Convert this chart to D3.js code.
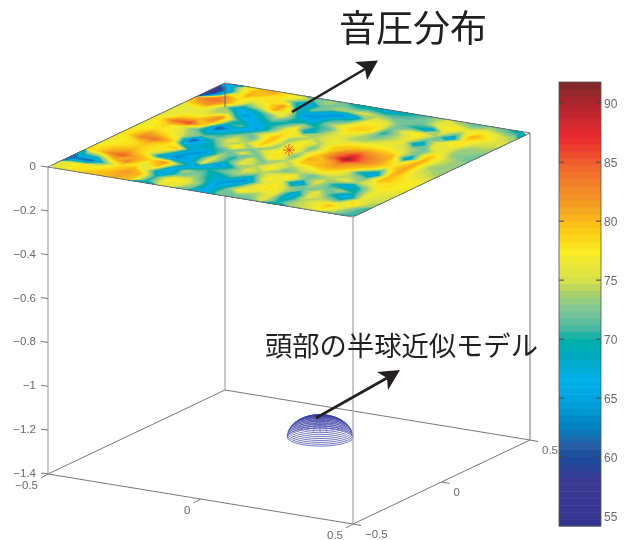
<!DOCTYPE html>
<html>
<head>
<meta charset="utf-8">
<script src="https://cdn.jsdelivr.net/npm/d3@7"></script>
<style>
  html, body { margin: 0; padding: 0; background: #fff; }
  svg { display: block; will-change: transform; }
  text { font-family: "Liberation Sans", sans-serif; fill: #6a6a6a; font-size: 11.5px; }
  .title { font-family: "Noto Sans CJK JP", sans-serif; fill: #231f20; }
</style>
</head>
<body>
<div class="canvas"></div>
<script>
const width = 625;
const height = 540;

const pressure = [
  [76,78,79,80,81,80,70,76,76,72,66,72,72,72,76,70,74,75,78,74,71],
  [76,78,77,79,82,80,70,78,77,73,65,72,78,74,76,67,74,76,80,76,71],
  [62,60,72,78,80,74,64,72,74,70,64,68,76,78,76,66,76,74,72,79,74],
  [70,72,80,83,76,80,66,74,72,68,70,63,74,78,74,72,76,70,65,76,75],
  [78,82,85,81,79,82,72,66,70,72,74,70,78,76,64,74,72,74,70,77,75],
  [78,80,81,78,68,63,66,76,63,70,76,74,76,78,72,76,70,64,72,77,76],
  [77,78,79,78,74,64,68,76,70,76,74,78,72,74,72,74,76,74,76,78,77],
  [77,78,80,78,80,68,63,74,70,76,72,76,74,76,78,76,74,72,80,78,77],
  [78,83,84,80,66,68,70,72,76,72,78,74,79,80,81,79,70,65,80,78,77],
  [78,81,79,76,60,68,74,78,72,76,78,72,81,80,83,81,79,72,81,76,75],
  [77,78,77,74,72,72,76,74,79,73,79,74,79,84,91,84,81,78,81,75,74],
  [77,79,76,72,66,70,74,72,80,74,78,72,78,83,87,83,81,76,81,74,73],
  [78,84,86,78,60,66,70,76,80,73,77,74,79,80,82,81,80,66,81,75,73],
  [76,79,80,82,70,72,64,72,78,76,74,76,76,78,78,78,76,72,80,75,73],
  [76,76,76,83,72,66,68,72,78,66,74,76,74,74,76,76,74,72,77,73,72],
  [76,77,74,74,63,68,72,70,74,70,72,78,75,72,74,76,66,76,76,73,73],
  [80,82,74,66,68,72,76,70,66,72,76,79,79,70,74,77,72,76,78,74,74],
  [83,84,80,72,75,81,76,64,64,70,72,78,78,72,76,78,74,66,78,76,75],
  [60,82,78,76,78,82,68,72,66,63,68,76,76,72,70,66,76,72,81,78,75],
  [58,72,81,78,78,72,64,72,74,74,76,74,72,72,72,76,78,76,78,76,74],
  [66,76,80,81,78,76,72,74,72,70,70,68,70,71,73,76,74,72,74,72,70]
];

const zTicks = [0, -0.2, -0.4, -0.6, -0.8, -1, -1.2, -1.4];
const xTicks = [-0.5, 0, 0.5];
const yTicks = [-0.5, 0, 0.5];
const colorTicks = [55, 60, 65, 70, 75, 80, 85, 90];

// jet-like colormap as it came out of the print conversion
const colorStops = [54.15, 58, 60, 61, 62.5, 64.5, 66.5, 68.5, 70, 71, 72.5, 73.8, 75, 77.5, 79.5, 81, 84.5, 87, 90, 91.8];
const colorValues = ["#333391", "#3a3a94", "#1a4a9a", "#2a5fa5", "#0080bc", "#00a0dc", "#00b0ec", "#00a9c0", "#00b0a8", "#4fb8a0", "#80c898", "#a6d06f", "#d8e04a", "#f9ec20", "#fcc514", "#f5a623", "#f1682a", "#ed2a30", "#b0252e", "#7a2a2a"];
const bandCount = 64;

// 半球モデル
const headCenter = [-0.027, 0.222];
const headRadius = 0.0935;
const headLatitudes = [0, 5, 10, 15, 20, 25, 30, 35, 40, 45, 50, 55, 60, 65, 70, 75, 80, 85];
const headLongitudes = d3.range(0, 360, 15);

// axis box on screen
const cornerLeft = [48, 167];
const vecX = [305, 50];
const vecY = [177, -84];
const fx = d3.scaleLinear().domain([-0.5, 0.5]).range([0, 1]);
const fy = d3.scaleLinear().domain([-0.5, 0.5]).range([0, 1]);
const zScale = d3.scaleLinear().domain([0, -1.4]).range([0, 307]);

function project(x, y, z) {
  return [
    cornerLeft[0] + fx(x) * vecX[0] + fy(y) * vecY[0],
    cornerLeft[1] + fx(x) * vecX[1] + fy(y) * vecY[1] + zScale(z)
  ];
}

const svg = d3.select(".canvas").append("svg")
  .attr("width", width)
  .attr("height", height);

const line = d3.line();

function edge(a, b, color, w) {
  svg.append("path")
    .attr("d", line([project(...a), project(...b)]))
    .attr("stroke", color)
    .attr("stroke-width", w)
    .attr("fill", "none");
}

// floor and back
const zMin = -1.4;
edge([-0.5, 0.5, zMin], [0.5, 0.5, zMin], "#777", 1);
edge([-0.5, -0.5, zMin], [-0.5, 0.5, zMin], "#777", 1);
edge([-0.5, 0.5, 0], [-0.5, 0.5, zMin], "#aaa", 1.3);
edge([0.5, 0.5, 0], [0.5, 0.5, zMin], "#aaa", 1.6);
edge([-0.5, -0.5, 0], [-0.5, -0.5, zMin], "#aaa", 1.3);

// hemisphere
const headColor = "#3a3fa6";
const toRad = Math.PI / 180;
function headPoint(lat, lon) {
  const r = headRadius * Math.cos(lat * toRad);
  return project(
    headCenter[0] + r * Math.cos(lon * toRad),
    headCenter[1] + r * Math.sin(lon * toRad),
    zMin + headRadius * Math.sin(lat * toRad)
  );
}
const head = svg.append("g").attr("fill", "none").attr("stroke", headColor).attr("stroke-width", 0.7);
const ringLine = d3.line().curve(d3.curveLinearClosed);
headLatitudes.forEach(lat => {
  head.append("path").attr("d", ringLine(headLongitudes.map(lon => headPoint(lat, lon))));
});
headLongitudes.forEach(lon => {
  head.append("path")
    .attr("stroke-width", 0.4)
    .attr("d", line(headLatitudes.filter(lat => lat >= 35).map(lat => headPoint(lat, lon))));
});

edge([-0.5, -0.5, zMin], [0.5, -0.5, zMin], "#777", 1);
edge([0.5, -0.5, zMin], [0.5, 0.5, zMin], "#777", 1);
edge([0.5, -0.5, 0], [0.5, -0.5, zMin], "#aaa", 1.3);

// colours
const colorLine = d3.scaleLinear().domain(colorStops).range(colorValues);
const colorMin = colorStops[0];
const colorMax = colorStops[colorStops.length - 1];
const bandStep = (colorMax - colorMin) / bandCount;
const bands = d3.range(bandCount).map(i => colorMin + i * bandStep);
const bandColor = v => colorLine(v + bandStep / 2);

// pressure plane
const n = pressure.length;
const gridValues = pressure.flat();
const contours = d3.contours().size([n, n]).thresholds(bands)(gridValues);
const gridToPlane = d3.geoTransform({
  point(gx, gy) {
    const p = project(-0.5 + gx / n, -0.5 + gy / n, 0);
    this.stream.point(p[0], p[1]);
  }
});
const planePath = d3.geoPath(gridToPlane);
svg.append("g").selectAll("path")
  .data(contours)
  .join("path")
  .attr("d", planePath)
  .attr("fill", d => bandColor(d.value));

// plane outline
[[[-0.5, -0.5], [0.5, -0.5]], [[0.5, -0.5], [0.5, 0.5]], [[0.5, 0.5], [-0.5, 0.5]], [[-0.5, 0.5], [-0.5, -0.5]]].forEach(e => {
  edge([e[0][0], e[0][1], 0], [e[1][0], e[1][1], 0], "#666", 0.9);
});
// back corner line shows through the plane
svg.append("path")
  .attr("d", line([project(-0.5, 0.5, 0), project(-0.5, 0.5, -0.11)]))
  .attr("stroke", "#666").attr("stroke-width", 1);

// asterisk at the origin
const star = project(0, 0, 0);
[0, 45, 90, 135].forEach(a => {
  svg.append("line")
    .attr("x1", star[0] - 6 * Math.cos(a * toRad)).attr("y1", star[1] - 6 * Math.sin(a * toRad))
    .attr("x2", star[0] + 6 * Math.cos(a * toRad)).attr("y2", star[1] + 6 * Math.sin(a * toRad))
    .attr("stroke", "#d8502a").attr("stroke-width", 0.9);
});

// axis ticks and labels
const fmt = v => String(v).replace("-", "\u2212");
zTicks.forEach(t => {
  const p = project(-0.5, -0.5, t);
  svg.append("line").attr("x1", p[0] - 7).attr("y1", p[1] - 1).attr("x2", p[0]).attr("y2", p[1]).attr("stroke", "#777");
  svg.append("text").attr("x", p[0] - 12).attr("y", p[1] + 3).attr("text-anchor", "end").text(fmt(t));
});
xTicks.forEach(t => {
  const p = project(t, -0.5, zMin);
  svg.append("line").attr("x1", p[0]).attr("y1", p[1]).attr("x2", p[0] - 7).attr("y2", p[1] + 4).attr("stroke", "#777");
  svg.append("text").attr("x", p[0] - 10).attr("y", p[1] + 15).attr("text-anchor", "end").text(fmt(t));
});
yTicks.forEach(t => {
  const p = project(0.5, t, zMin);
  svg.append("line").attr("x1", p[0]).attr("y1", p[1]).attr("x2", p[0] + 8).attr("y2", p[1] + 1.5).attr("stroke", "#777");
  svg.append("text").attr("x", p[0] + 12).attr("y", p[1] + 13.5).text(fmt(t));
});

// colorbar
const barX = 559;
const barW = 42;
const barScale = d3.scaleLinear().domain([54.15, 91.8]).range([526, 82]);
svg.append("g").selectAll("rect")
  .data(bands)
  .join("rect")
  .attr("x", barX)
  .attr("width", barW)
  .attr("y", d => barScale(d + bandStep))
  .attr("height", d => barScale(d) - barScale(d + bandStep) + 0.5)
  .attr("fill", d => bandColor(d));
svg.append("rect").attr("x", barX).attr("y", 82).attr("width", barW).attr("height", 444)
  .attr("fill", "none").attr("stroke", "#555").attr("stroke-width", 0.8);
const barAxis = d3.axisRight(barScale).tickValues(colorTicks).tickSize(0).tickPadding(3);
const barG = svg.append("g").attr("transform", `translate(${barX + barW},0)`).call(barAxis);
barG.select(".domain").remove();
barG.selectAll("text").style("font-size", "12px").style("fill", "#6a6a6a").attr("dy", "0.35em");
colorTicks.forEach(t => {
  const y = barScale(t);
  svg.append("line").attr("x1", barX).attr("x2", barX + 5).attr("y1", y).attr("y2", y).attr("stroke", "#444");
  svg.append("line").attr("x1", barX + barW - 5).attr("x2", barX + barW).attr("y1", y).attr("y2", y).attr("stroke", "#444");
});

// arrows and titles
function arrow(tail, tip, b1, b2, notch) {
  svg.append("path").attr("d", line([tail, notch])).attr("stroke", "#231f20").attr("stroke-width", 2.6);
  svg.append("path").attr("d", line([tip, b1, notch, b2]) + "Z").attr("fill", "#231f20");
}
arrow([292, 112], [378, 60.5], [355, 62], [367, 80], [365, 69]);
arrow([316, 418], [400, 370], [377, 372], [388, 390], [387, 378]);

svg.append("text").attr("class", "title").attr("x", 339).attr("y", 42).style("font-size", "37px").text("音圧分布");
svg.append("text").attr("class", "title").attr("x", 265).attr("y", 356).style("font-size", "27.3px").text("頭部の半球近似モデル");
</script>
</body>
</html>
